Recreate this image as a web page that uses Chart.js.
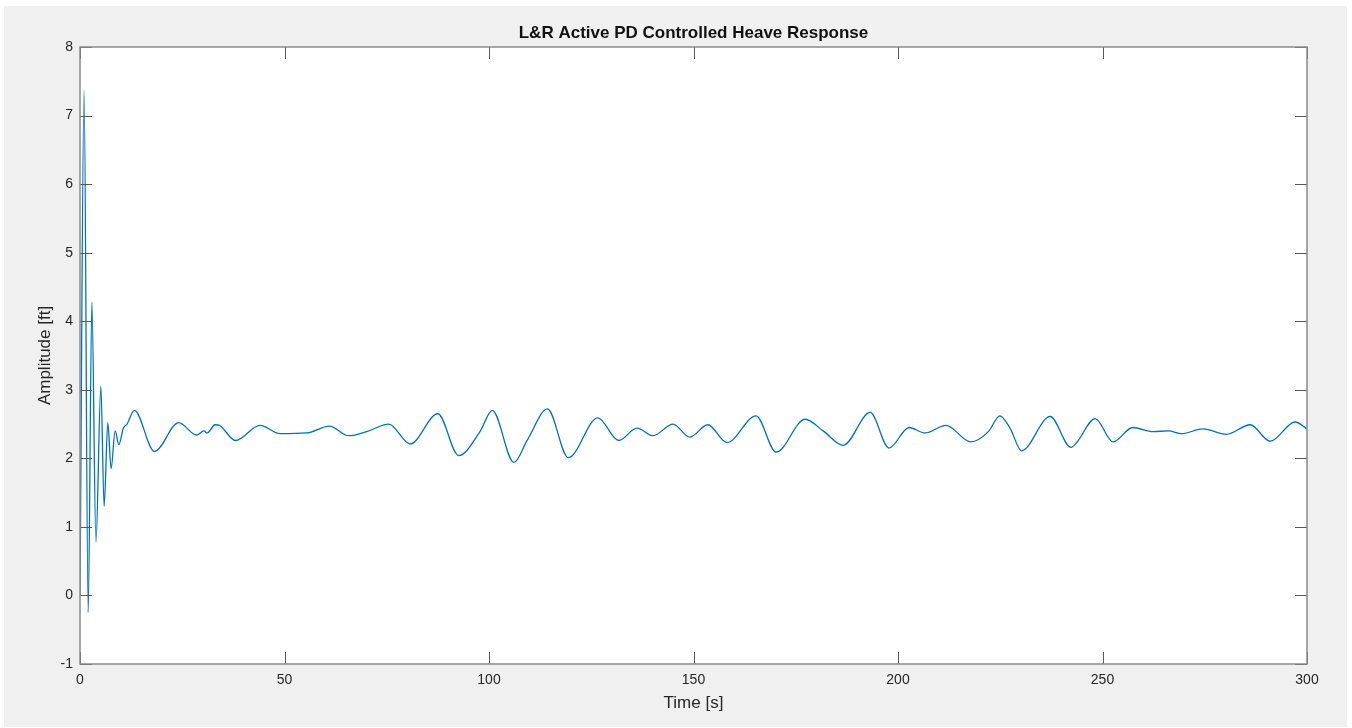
<!DOCTYPE html>
<html><head><meta charset="utf-8">
<script src="https://cdn.jsdelivr.net/npm/chart.js@4.4.1/dist/chart.umd.min.js"></script>
<style>html,body{margin:0;padding:0;background:#fff;overflow:hidden}
#wrap{position:absolute;left:0;top:0;width:1352px;height:728px}</style>
</head><body><div id="wrap"><canvas id="c" width="1352" height="728"></canvas></div>
<script>
const timeS = [0, 1.0, 2.0, 2.9, 3.9, 5.1, 5.9, 6.8, 7.6, 8.6, 9.5, 10.6, 11.5, 13.3, 18.2, 24.1, 28.5, 30.3, 31.1, 33.0, 34.1, 38.0, 44.0, 48.9, 55.4, 61.0, 65.7, 70.1, 75.5, 80.7, 87.5, 92.6, 97.8, 100.8, 106.1, 109.4, 114.3, 119.4, 126.6, 131.7, 136.2, 140.1, 145.0, 149.1, 153.5, 158.2, 165.3, 170.2, 177.3, 181.7, 186.6, 193.2, 197.8, 202.7, 206.6, 211.7, 217.8, 222.1, 224.9, 227.4, 230.2, 237.2, 242.3, 243.7, 248.2, 252.6, 257.4, 262.4, 266.1, 269.4, 274.6, 280.3, 286.1, 291.0, 297.1, 300];
const heaveFt = [0, 7.37, -0.25, 4.28, 0.78, 3.05, 1.3, 2.52, 1.85, 2.4, 2.2, 2.44, 2.5, 2.7, 2.1, 2.52, 2.34, 2.40, 2.37, 2.49, 2.48, 2.26, 2.48, 2.36, 2.37, 2.47, 2.33, 2.39, 2.50, 2.21, 2.65, 2.04, 2.39, 2.70, 1.94, 2.27, 2.72, 2.01, 2.59, 2.26, 2.44, 2.33, 2.50, 2.31, 2.49, 2.23, 2.62, 2.09, 2.57, 2.40, 2.19, 2.67, 2.15, 2.45, 2.37, 2.48, 2.24, 2.39, 2.62, 2.44, 2.11, 2.61, 2.16, 2.23, 2.58, 2.24, 2.45, 2.39, 2.40, 2.36, 2.43, 2.35, 2.49, 2.25, 2.53, 2.43];
const xTicks = [0, 50, 100, 150, 200, 250, 300];
const yTicks = [-1, 0, 1, 2, 3, 4, 5, 6, 7, 8];
const chartTitle = 'L&R Active PD Controlled Heave Response';
const xLabel = 'Time [s]';
const yLabel = 'Amplitude [ft]';

const FONT = '"Liberation Sans", Arial, Helvetica, sans-serif';

const bgPlugin = {
  id: 'bg',
  beforeDraw(chart) {
    const {ctx, chartArea: a} = chart;
    ctx.save();
    ctx.fillStyle = '#ffffff';
    ctx.fillRect(0, 0, chart.width, chart.height);
    ctx.fillStyle = '#f0f0f0';
    ctx.fillRect(4, 6, 1343, 721);
    ctx.fillStyle = '#ffffff';
    ctx.fillRect(a.left, a.top, a.right - a.left, a.bottom - a.top);
    ctx.restore();
  }
};

const framePlugin = {
  id: 'frame',
  afterDatasetsDraw(chart) {
    const {ctx, chartArea: a, scales: {x, y}} = chart;
    const TL = 12;
    ctx.save();
    ctx.strokeStyle = '#5a5a5a';
    ctx.lineWidth = 1;
    ctx.beginPath();
    xTicks.forEach(v => {
      const px = Math.round(x.getPixelForValue(v)) + 0.5;
      ctx.moveTo(px, a.bottom); ctx.lineTo(px, a.bottom - TL);
      ctx.moveTo(px, a.top); ctx.lineTo(px, a.top + TL);
    });
    yTicks.forEach(v => {
      const py = Math.round(y.getPixelForValue(v)) + 0.5;
      ctx.moveTo(a.left, py); ctx.lineTo(a.left + TL, py);
      ctx.moveTo(a.right, py); ctx.lineTo(a.right - TL, py);
    });
    ctx.stroke();
    ctx.strokeStyle = '#8a8a8a';
    ctx.lineWidth = 1.5;
    ctx.strokeRect(a.left, a.top, a.right - a.left, a.bottom - a.top);
    ctx.fillStyle = '#111111';
    ctx.font = 'bold 17px ' + FONT;
    ctx.textAlign = 'center';
    ctx.textBaseline = 'middle';
    ctx.fillText(chartTitle, (a.left + a.right) / 2, 33);
    ctx.restore();
  }
};

const points = timeS.map((t, i) => ({x: t, y: heaveFt[i]}));

new Chart(document.getElementById('c'), {
  type: 'line',
  data: {
    datasets: [{
      data: points,
      borderColor: '#0072BD',
      borderWidth: 1.3,
      pointRadius: 0,
      fill: false,
      cubicInterpolationMode: 'monotone'
    }]
  },
  options: {
    responsive: false,
    animation: false,
    devicePixelRatio: 1,
    layout: {padding: {top: 47, right: 45, left: 0, bottom: 0}},
    plugins: {legend: {display: false}, title: {display: false}, tooltip: {enabled: false}},
    scales: {
      x: {
        type: 'linear', min: 0, max: 300,
        afterBuildTicks: s => { s.ticks = xTicks.map(v => ({value: v})); },
        afterFit: s => { s.height = 64; },
        grid: {display: false, drawTicks: false},
        border: {display: false},
        ticks: {color: '#262626', font: {family: FONT, size: 14}, padding: 8, maxRotation: 0},
        title: {display: true, text: xLabel, color: '#262626', font: {family: FONT, size: 17}, padding: {top: 0, bottom: 14.8}}
      },
      y: {
        type: 'linear', min: -1, max: 8,
        afterBuildTicks: s => { s.ticks = yTicks.map(v => ({value: v})); },
        afterFit: s => { s.width = 80; },
        grid: {display: false, drawTicks: false},
        border: {display: false},
        ticks: {color: '#262626', font: {family: FONT, size: 14}, padding: 7},
        title: {display: true, text: yLabel, color: '#262626', font: {family: FONT, size: 17}, padding: {top: 34.8, bottom: 0}}
      }
    }
  },
  plugins: [bgPlugin, framePlugin]
});
</script></body></html>
